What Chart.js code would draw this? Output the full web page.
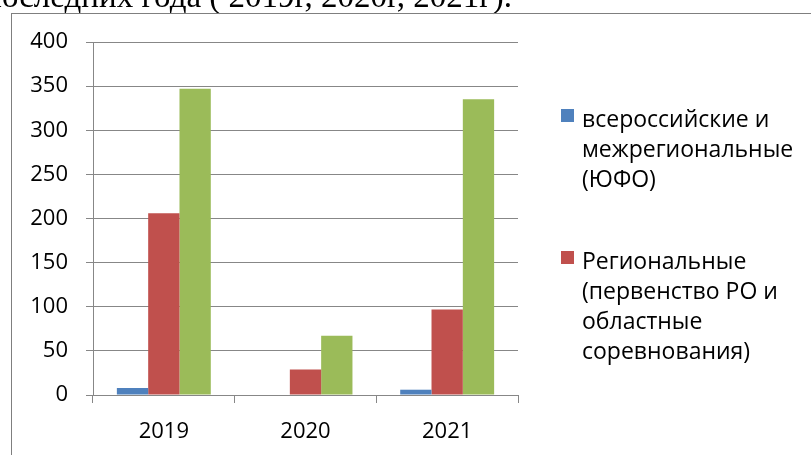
<!DOCTYPE html>
<html lang="ru">
<head>
    <meta charset="utf-8">
    <title>Соревнования 2019–2021</title>
    <script src="https://cdn.jsdelivr.net/npm/chart.js"></script>
    <style>
        html, body { margin: 0; padding: 0; background: #fff; overflow: hidden; }
        body { width: 811px; height: 455px; position: relative; }
        #caption {
            position: absolute; right: 299px; top: -20px;
            font: 33px/33px "Liberation Serif", "Times New Roman", serif;
            white-space: nowrap; color: #000; z-index: 2;
        }
        #chartWrap { position: absolute; left: 0; top: 0; width: 811px; height: 455px; }
        #frame {
            position: absolute; left: 11px; top: 13px; width: 820px; height: 460px;
            border-left: 1px solid #7f7f7f; border-top: 1px solid #7f7f7f;
            z-index: 3; pointer-events: none;
        }
        .legend-item {
            position: absolute; left: 582px; width: 229px;
            font: 23px/30px "Open Sans", sans-serif; color: #000;
        }
        .legend-item .box {
            position: absolute; left: -21px; top: 6px; width: 13px; height: 13px;
        }
    </style>
</head>
<body>
    <div id="caption">последних года ( 2019г, 2020г, 2021г).</div>
    <div id="chartWrap"><canvas id="chart" width="811" height="455"></canvas></div>
    <div id="frame"></div>
    <div id="legend"></div>

    <script>
        const years = ['2019', '2020', '2021'];
        const seriesNames = [
            'всероссийские и межрегиональные (ЮФО)',
            'Региональные (первенство РО и областные соревнования)',
            ''
        ];
        const allRussian = [8, 0, 6];
        const regional = [206, 29, 97];
        const thirdSeries = [347, 67, 335];
        const yTicks = [0, 50, 100, 150, 200, 250, 300, 350, 400];

        const colors = ['#4F81BD', '#C0504D', '#9BBB59'];
        const gridColor = '#878787';

        // legend lines as they wrap in the picture
        const legendLines = [
            ['всероссийские и', 'межрегиональные', '(ЮФО)'],
            ['Региональные', '(первенство РО и', 'областные', 'соревнования)']
        ];
        const legendTops = [103, 245];

        Chart.defaults.font.family = '"Open Sans", sans-serif';
        Chart.defaults.font.size = 22;
        Chart.defaults.color = '#000';

        const seriesValues = [allRussian, regional, thirdSeries];
        const datasets = seriesValues.map((values, i) => ({
            label: seriesNames[i],
            data: values,
            backgroundColor: colors[i],
            borderWidth: 0,
            categoryPercentage: 0.663,
            barPercentage: 1.0,
        }));

        const chart = new Chart(document.getElementById('chart'), {
            type: 'bar',
            data: { labels: years, datasets: datasets },
            options: {
                responsive: false,
                animation: false,
                layout: { padding: { left: 0, top: 42, right: 293, bottom: 0 } },
                plugins: {
                    legend: { display: false },
                    tooltip: { enabled: false },
                },
                scales: {
                    x: {
                        offset: true,
                        grid: {
                            offset: true,
                            drawOnChartArea: false,
                            color: gridColor,
                            tickLength: 8,
                        },
                        border: { color: gridColor },
                        ticks: { padding: 16 },
                        afterFit: (scale) => { scale.height = 60; },
                    },
                    y: {
                        min: 0,
                        max: 400,
                        afterBuildTicks: (scale) => {
                            scale.ticks = yTicks.map(v => ({ value: v }));
                        },
                        grid: { color: gridColor, tickLength: 7 },
                        border: { color: gridColor },
                        ticks: { padding: 18 },
                        afterFit: (scale) => { scale.width = 93; },
                    },
                },
            },
        });

        // html legend for the two visible entries
        const legend = document.getElementById('legend');
        legendLines.forEach((lines, i) => {
            const item = document.createElement('div');
            item.className = 'legend-item';
            item.style.top = legendTops[i] + 'px';
            const box = document.createElement('span');
            box.className = 'box';
            box.style.background = chart.data.datasets[i].backgroundColor;
            item.appendChild(box);
            lines.forEach((line, j) => {
                if (j > 0) item.appendChild(document.createElement('br'));
                item.appendChild(document.createTextNode(line));
            });
            legend.appendChild(item);
        });
    </script>
</body>
</html>
